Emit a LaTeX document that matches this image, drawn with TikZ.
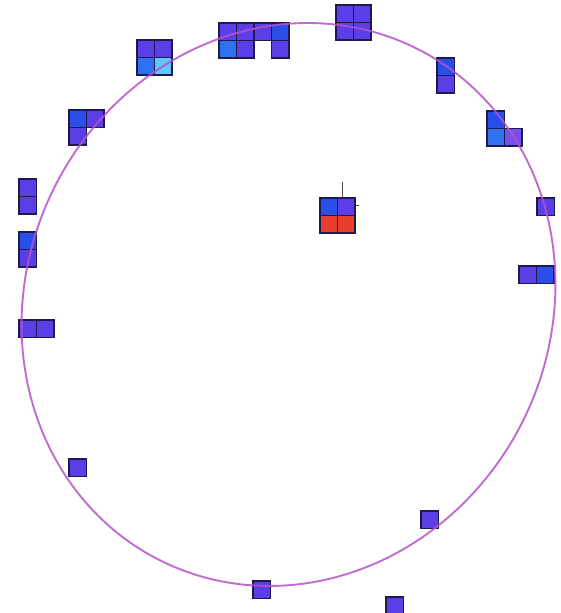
\documentclass[tikz,border=0pt]{standalone}
\definecolor{purp}{RGB}{92,62,230}
\definecolor{purpl}{RGB}{118,80,234}
\definecolor{blu}{RGB}{42,78,232}
\definecolor{lblu}{RGB}{45,112,240}
\definecolor{cyanc}{RGB}{95,200,248}
\definecolor{redc}{RGB}{232,62,46}
\definecolor{cellline}{RGB}{30,26,80}
\definecolor{ringc}{RGB}{182,82,202}
\tikzset{
  cellbox/.style={draw=cellline, line width=1.2pt},
  ring/.style={draw=ringc, line width=1.9pt, opacity=0.85},
  crossline/.style={draw=black!70, line width=0.6pt}
}
\newcommand\cellat[3]{\path[cellbox, fill=#3] (#1,#2) rectangle ++(17.5,17.5);}
\begin{document}
\begin{tikzpicture}[x=1pt,y=-1pt]
\useasboundingbox[fill=white] (0,0) rectangle (560,613);
% crosshair behind centre group
\draw[crossline] (342,182) -- (342,228);
\draw[crossline] (325,205) -- (359,205);
% G1
\cellat{137}{40}{purp}\cellat{154.5}{40}{purp}
\cellat{137}{57.5}{lblu}\cellat{154.5}{57.5}{cyanc}
% G2
\cellat{219}{23}{purp}\cellat{236.5}{23}{purp}\cellat{254}{23}{purp}\cellat{271.5}{23}{blu}
\cellat{219}{40.5}{lblu}\cellat{236.5}{40.5}{purp}\cellat{271.5}{40.5}{purp}
% G3
\cellat{336}{5}{purp}\cellat{353.5}{5}{purp}
\cellat{336}{22.5}{purp}\cellat{353.5}{22.5}{purp}
% G4
\cellat{437}{58}{blu}\cellat{437}{75.5}{purp}
% G5
\cellat{487}{111}{blu}\cellat{487}{128.5}{lblu}\cellat{504.5}{128.5}{purpl}
% G6
\cellat{69}{110}{blu}\cellat{86.5}{110}{purp}\cellat{69}{127.5}{purp}
% G7
\cellat{19}{179}{purp}\cellat{19}{196.5}{purp}
% G8
\cellat{19}{232}{blu}\cellat{19}{249.5}{purp}
% G9
\cellat{19}{320}{purp}\cellat{36.5}{320}{purp}
% G10 centre
\cellat{320}{198}{blu}\cellat{337.5}{198}{purp}
\cellat{320}{215.5}{redc}\cellat{337.5}{215.5}{redc}
% singles and pairs on the right
\cellat{537}{198}{purp}
\cellat{519}{266}{purp}\cellat{536.5}{266}{blu}
% lower singles
\cellat{69}{459}{purp}
\cellat{421}{511}{purp}
\cellat{253}{581}{purp}
\cellat{386}{597}{purp}
% ring: tilted ellipse, centre (288.5,304.5), semi-axes 261.8 / 286.3, tilt 26.8 deg
\draw[ring] plot[domain=0:360, samples=120, smooth cycle]
  ({288.5 + 261.8*cos(\x)*cos(26.8) - 286.3*sin(\x)*sin(26.8)},
   {304.5 + 261.8*cos(\x)*sin(26.8) + 286.3*sin(\x)*cos(26.8)});
\end{tikzpicture}
\end{document}
